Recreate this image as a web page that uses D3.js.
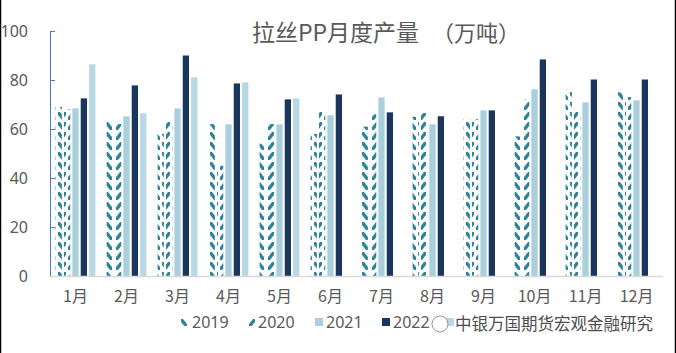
<!DOCTYPE html>
<html>
<head>
<meta charset="utf-8">
<script src="https://cdn.jsdelivr.net/npm/d3@7"></script>
<style>
  body { margin: 0; background: #fff; }
  svg text { font-family: "Noto Sans", "Noto Sans CJK SC", sans-serif; }
</style>
</head>
<body>
<svg id="chart" width="676" height="353"></svg>
<script>
const months = ["1月", "2月", "3月", "4月", "5月", "6月", "7月", "8月", "9月", "10月", "11月", "12月"];
const seriesNames = ["2019", "2020", "2021", "2022", "2023"];
const v2019 = [69, 63, 58, 62, 54, 58, 61, 65, 64, 57, 76, 75];
const v2020 = [68, 62, 63, 45, 62, 67, 66, 66.5, 64, 72, 68, 73];
const v2021 = [68.4, 65.2, 68.4, 61.9, 61.9, 65.6, 72.9, 61.9, 67.6, 76.2, 70.9, 71.7];
const v2022 = [72.5, 77.8, 90.0, 78.6, 72.1, 74.1, 66.8, 65.2, 67.6, 88.4, 80.2, 80.2];
const v2023 = [86.4, 66.4, 81.1, 79.0, 72.5, null, null, null, null, null, null, null];
const yTicks = [0, 20, 40, 60, 80, 100];

const svg = d3.select("#chart"),
  margin = { top: 31, right: 14, bottom: 77, left: 50 },
  width = +svg.attr("width") - margin.left - margin.right,
  height = +svg.attr("height") - margin.top - margin.bottom;

const teal = "#2f8499";
const defs = svg.append("defs");

// diagonal dash patterns, transparent background like the excel fill
function addPattern(id, dir) {
  const p = defs.append("pattern")
    .attr("id", id)
    .attr("patternUnits", "userSpaceOnUse")
    .attr("width", 8)
    .attr("height", 10);
  const pts = dir === "down"
    ? "0,1 2,1 6,6 6,9 4,9 0,4"
    : "8,1 6,1 2,6 2,9 4,9 8,4";
  p.append("polygon").attr("points", pts).attr("fill", teal);
}
addPattern("pat2019", "down");
addPattern("pat2020", "up");

const fills = {
  "2019": "url(#pat2019)",
  "2020": "url(#pat2020)",
  "2021": "#a9cfdd",
  "2022": "#1a365d",
  "2023": "#b8d8e4",
};
const valuesBySeries = { "2019": v2019, "2020": v2020, "2021": v2021, "2022": v2022, "2023": v2023 };

// frame lines at the screenshot edges
svg.append("line").attr("x1", 0.5).attr("x2", 0.5).attr("y1", 0).attr("y2", 353)
  .attr("stroke", "#000").attr("stroke-width", 1.5);
svg.append("line").attr("x1", 675.5).attr("x2", 675.5).attr("y1", 0).attr("y2", 353)
  .attr("stroke", "#000").attr("stroke-width", 1.5);

const g = svg.append("g").attr("transform", `translate(${margin.left},${margin.top})`);

const x0 = d3.scaleBand().domain(months).range([0, width]).paddingInner(0.22).paddingOuter(0.11);
const x1 = d3.scaleBand().domain(seriesNames).range([0, x0.bandwidth()]).paddingInner(0.25);
const y = d3.scaleLinear().domain([0, 100]).range([height, 0]);

// bars
const rows = [];
seriesNames.forEach((s) => {
  valuesBySeries[s].forEach((v, i) => {
    if (v != null) rows.push({ s, m: months[i], v });
  });
});

g.selectAll(".bar")
  .data(rows)
  .enter()
  .append("rect")
  .attr("class", "bar")
  .attr("x", (d) => x0(d.m) + x1(d.s))
  .attr("width", x1.bandwidth())
  .attr("y", (d) => y(d.v))
  .attr("height", (d) => height - y(d.v))
  .attr("fill", (d) => fills[d.s]);

// y axis
const yAxis = g.append("g").call(
  d3.axisLeft(y).tickValues(yTicks).tickSize(-5).tickPadding(22)
);
yAxis.select(".domain").attr("stroke", "#4a7ebb");
yAxis.selectAll(".tick line").attr("stroke", "#4a7ebb");
yAxis.selectAll("text").attr("fill", "#595959").style("font-size", "16px");

// x axis
const xAxis = g.append("g")
  .attr("transform", `translate(0,${height})`)
  .call(d3.axisBottom(x0).tickSize(0).tickPadding(15));
xAxis.select(".domain").attr("stroke", "#d9d9d9").attr("stroke-width", 1.5);
xAxis.selectAll("text")
  .attr("fill", "#595959")
  .style("font-size", "16px")
  .style("font-family", "'Noto Sans CJK SC', sans-serif");

// title
const titleStyle = (t) => t
  .attr("y", 41)
  .attr("fill", "#595959")
  .style("font-family", "'Noto Sans CJK SC', sans-serif");
svg.append("text").attr("x", 252).call(titleStyle).style("font-size", "23px").text("拉丝PP月度产量");
svg.append("text").attr("x", 432).call(titleStyle).style("font-size", "22px").text("（万吨）");

// legend (label of the last entry is hidden under the watermark in the source)
const legendX = [181, 247, 315, 382, 446];
const legend = svg.append("g");
seriesNames.forEach((s, i) => {
  const lg = legend.append("g").attr("transform", `translate(${legendX[i]},318)`);
  lg.append("rect").attr("width", 8).attr("height", 8).attr("fill", fills[s]);
  if (i < 4) {
    lg.append("text")
      .attr("x", 11)
      .attr("y", 4)
      .attr("dy", "0.35em")
      .attr("fill", "#595959")
      .style("font-size", "16px")
      .text(s);
  }
});

// watermark
const wm = svg.append("g");
wm.append("circle").attr("cx", 440).attr("cy", 324).attr("r", 8)
  .attr("fill", "#fff").attr("fill-opacity", 0.7).attr("stroke", "#999").attr("stroke-width", 1);
wm.append("text")
  .attr("x", 455)
  .attr("y", 324)
  .attr("dy", "0.35em")
  .attr("fill", "#4d4d4d")
  .attr("stroke", "#fff")
  .attr("stroke-width", 2)
  .attr("paint-order", "stroke")
  .style("font-size", "16.5px")
  .style("font-family", "'Noto Sans CJK SC', sans-serif")
  .text("中银万国期货宏观金融研究");
</script>
</body>
</html>
